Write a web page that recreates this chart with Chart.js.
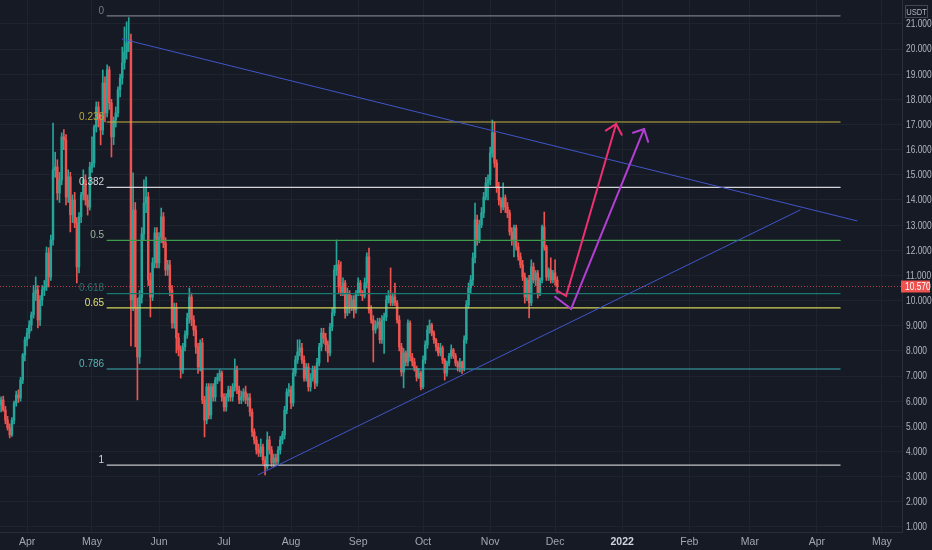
<!DOCTYPE html>
<html><head><meta charset="utf-8">
<script src="https://cdn.jsdelivr.net/npm/chart.js@4.4.0/dist/chart.umd.min.js"></script>
<style>html,body{margin:0;padding:0;background:#161a25;}canvas{display:block}</style>
</head><body>
<canvas id="c" width="932" height="550"></canvas>
<script>
// day offsets counted from 2021-04-01
const firstDay = -12;
const opens = [
5.85,6.05,5.65,5.25,4.94,4.66,5.25,5.93,6.25,6.13,6.84,7.84,
8.44,8.71,9.03,9.43,10.30,10.42,9.23,10.03,10.42,10.54,11.89,10.94,
12.41,15.20,15.31,14.28,14.80,16.51,16.39,14.12,14.92,13.41,14.00,13.09,
11.34,13.33,14.20,14.80,14.00,13.72,15.31,15.47,16.90,17.70,17.18,16.78,
18.65,17.46,19.17,17.86,16.51,17.18,17.46,18.38,18.85,19.45,19.89,20.24,
20.36,10.03,13.60,9.71,7.76,10.14,12.65,13.88,14.12,10.82,10.14,11.50,
12.69,11.50,12.53,13.33,12.29,11.22,11.42,10.42,9.11,9.71,8.52,8.04,
7.24,8.16,8.63,9.31,10.14,9.23,8.83,8.16,7.36,8.32,6.05,5.25,
6.57,5.45,6.57,6.17,6.84,6.96,7.12,6.17,5.77,6.17,6.45,6.17,
6.57,7.24,6.45,6.05,6.17,6.37,6.05,6.13,5.57,4.78,4.46,4.06,
3.94,4.18,3.66,3.39,4.46,4.06,3.55,3.74,3.60,4.06,4.46,4.66,
5.65,6.37,6.45,5.93,7.12,7.64,7.96,8.12,7.64,6.92,7.36,6.57,
6.92,7.24,6.72,7.52,8.16,8.71,8.51,8.24,7.92,8.95,9.51,11.22,
11.42,10.54,10.34,10.70,9.51,10.30,9.71,10.03,9.63,10.30,10.70,10.30,
10.18,10.70,11.74,9.63,9.23,8.83,9.03,9.15,8.44,9.23,9.35,10.03,
10.18,9.91,10.14,9.91,9.23,8.16,7.16,7.92,7.56,9.11,7.76,7.56,
7.32,6.96,7.12,6.57,7.64,8.24,8.83,9.03,8.71,8.44,8.16,7.92,
8.12,7.64,7.12,7.52,7.80,8.04,7.80,7.52,7.36,7.56,7.32,8.44,
9.83,10.50,10.82,11.70,13.21,12.41,13.01,13.49,14.12,14.68,14.80,15.87,
16.67,15.47,14.52,14.00,13.72,14.08,13.72,13.49,12.73,12.41,12.89,12.13,
11.74,11.42,10.94,10.14,10.82,9.91,11.34,10.82,11.10,10.30,10.82,12.93,
12.13,10.94,11.22,10.82,11.10,10.82];
const highs = [
6.17,6.2,5.8,5.4,5.1,5.35,6.0,6.4,6.45,6.95,7.9,8.55,
8.9,9.2,9.55,10.6,10.94,10.6,10.2,10.6,10.8,12.13,12.1,12.6,
17.06,15.9,15.6,15.1,16.67,16.8,16.6,15.2,15.1,14.2,14.3,13.3,
13.5,14.3,15.2,15.0,14.2,15.5,16.51,16.98,17.9,17.9,17.4,19.17,
18.9,19.37,19.3,18.0,17.3,17.7,18.5,19.0,20.08,20.88,21.08,21.25,
20.6,15.08,13.9,10.1,10.4,12.9,14.8,14.92,14.3,11.1,11.7,12.9,
12.9,12.7,13.68,13.5,12.5,11.6,11.6,10.6,9.9,9.9,8.7,8.2,
8.3,8.8,9.5,10.5,10.3,9.4,9.0,8.3,8.44,8.5,6.2,6.7,
6.7,6.7,6.7,6.95,7.1,7.24,7.2,6.3,6.3,6.6,6.6,6.7,
7.68,7.4,6.6,6.4,6.5,6.6,6.3,6.3,5.7,4.9,4.6,4.3,
4.5,4.3,3.8,4.78,4.6,4.2,3.9,3.9,4.2,4.6,4.8,5.8,
6.5,6.7,6.6,7.3,7.8,8.44,8.44,8.3,7.8,7.5,7.5,7.1,
7.4,7.4,7.7,8.3,8.9,8.9,8.7,8.4,9.1,9.7,11.4,12.41,
11.6,11.54,10.9,10.8,10.5,10.4,10.2,10.2,10.4,10.9,10.8,10.4,
10.9,11.9,12.09,9.8,9.4,9.2,9.3,9.3,9.4,9.5,10.2,10.4,
11.3,10.3,10.7,10.0,9.4,8.3,8.1,8.0,9.23,9.2,7.9,7.7,
7.4,7.3,7.2,7.8,8.4,9.0,9.23,9.1,8.8,8.5,8.3,8.3,
8.2,7.7,7.6,7.9,8.24,8.1,7.9,7.6,7.7,7.6,8.6,10.0,
10.7,11.0,11.9,13.88,13.4,13.2,13.7,14.3,14.9,15.0,16.1,17.18,
17.1,15.6,14.7,14.1,14.68,14.2,13.9,13.6,12.9,13.0,13.0,12.3,
11.9,11.6,11.1,10.9,11.0,11.62,11.5,11.2,11.2,10.9,13.0,13.52,
12.2,11.3,11.7,11.2,11.62,10.95];
const lows = [
5.57,5.6,5.1,4.85,4.54,4.6,5.1,5.8,5.95,6.0,6.7,7.6,
8.2,8.5,8.8,9.3,10.0,8.91,9.0,9.8,10.2,10.4,10.54,10.8,
12.2,14.9,14.0,13.9,14.6,16.0,13.8,13.9,12.73,13.1,12.9,10.7,
11.1,13.1,14.0,13.8,13.4,13.6,15.1,15.3,16.7,16.9,16.19,16.6,
17.1,17.3,17.6,15.71,16.2,16.9,17.3,18.1,18.6,19.2,19.6,19.9,
8.2,9.6,8.16,6.05,7.5,9.9,12.4,13.5,10.6,9.35,10.0,11.3,
11.3,11.3,12.3,12.1,11.0,11.0,10.2,8.9,8.9,7.92,7.8,6.92,
7.1,8.0,8.5,9.1,9.0,8.6,7.9,7.1,7.2,5.9,4.58,5.1,
5.3,5.3,6.0,6.0,6.7,6.8,6.0,5.6,5.6,6.0,6.0,6.0,
6.4,6.3,5.9,5.9,6.0,5.9,5.8,5.4,4.6,4.3,3.9,3.8,
3.8,3.5,3.07,3.3,3.9,3.4,3.4,3.5,3.5,3.9,4.3,4.5,
5.5,6.2,5.7,5.8,7.0,7.5,7.8,7.5,6.8,6.8,6.4,6.4,
6.8,6.5,6.6,7.4,8.0,8.3,8.0,7.56,7.8,8.8,9.4,11.0,
10.3,10.2,10.2,9.3,9.4,9.5,9.6,9.31,9.5,10.2,10.2,10.0,
10.1,10.5,9.5,9.1,7.56,8.7,8.9,8.3,8.3,7.9,9.2,9.9,
9.8,9.8,9.8,9.1,8.0,7.0,6.53,7.4,7.4,7.6,7.4,7.2,
6.8,6.9,6.45,6.5,7.5,8.1,8.7,8.6,8.3,8.0,7.8,7.8,
7.5,6.84,7.0,7.4,7.7,7.7,7.4,7.2,7.16,7.1,7.2,8.3,
9.7,10.3,10.6,11.5,12.2,12.3,12.9,13.3,14.0,14.0,14.6,15.7,
15.3,14.3,13.8,13.5,13.6,13.5,13.3,12.6,12.2,11.74,12.0,11.6,
11.3,10.8,9.9,10.0,9.31,9.8,10.7,10.6,10.1,10.2,10.7,12.0,
10.8,10.8,10.7,10.7,10.6,10.3];
const closes = [
6.05,5.65,5.25,4.94,4.66,5.25,5.93,6.25,6.13,6.84,7.84,8.44,
8.71,9.03,9.43,10.30,10.42,9.23,10.03,10.42,10.54,11.89,10.94,12.41,
15.20,15.31,14.28,14.80,16.51,16.39,14.12,14.92,13.41,14.00,13.09,11.34,
13.33,14.20,14.80,14.00,13.72,15.31,15.47,16.90,17.70,17.18,16.78,18.65,
17.46,19.17,17.86,16.51,17.18,17.46,18.38,18.85,19.45,19.89,20.24,20.36,
10.03,13.60,9.71,7.76,10.14,12.65,13.88,14.12,10.82,10.14,11.50,12.69,
11.50,12.53,13.33,12.29,11.22,11.42,10.42,9.11,9.71,8.52,8.04,7.24,
8.16,8.63,9.31,10.14,9.23,8.83,8.16,7.36,8.32,6.05,5.25,6.57,
5.45,6.57,6.17,6.84,6.96,7.12,6.17,5.77,6.17,6.45,6.17,6.57,
7.24,6.45,6.05,6.17,6.37,6.05,6.13,5.57,4.78,4.46,4.06,3.94,
4.18,3.66,3.39,4.46,4.06,3.55,3.74,3.60,4.06,4.46,4.66,5.65,
6.37,6.45,5.93,7.12,7.64,7.96,8.12,7.64,6.92,7.36,6.57,6.92,
7.24,6.72,7.52,8.16,8.71,8.51,8.24,7.92,8.95,9.51,11.22,11.42,
10.54,10.34,10.70,9.51,10.30,9.71,10.03,9.63,10.30,10.70,10.30,10.18,
10.70,11.74,9.63,9.23,8.83,9.03,9.15,8.44,9.23,9.35,10.03,10.18,
9.91,10.14,9.91,9.23,8.16,7.16,7.92,7.56,9.11,7.76,7.56,7.32,
6.96,7.12,6.57,7.64,8.24,8.83,9.03,8.71,8.44,8.16,7.92,8.12,
7.64,7.12,7.52,7.80,8.04,7.80,7.52,7.36,7.56,7.32,8.44,9.83,
10.50,10.82,11.70,13.21,12.41,13.01,13.49,14.12,14.68,14.80,15.87,16.67,
15.47,14.52,14.00,13.72,14.08,13.72,13.49,12.73,12.41,12.89,12.13,11.74,
11.42,10.94,10.14,10.82,9.91,11.34,10.82,11.10,10.30,10.82,12.93,12.13,
10.94,11.22,10.82,11.10,10.82,10.57];

const monthTicks = [0,30,61,91,122,153,183,214,244,275,306,334,365,395];
const monthLabels = ['Apr','May','Jun','Jul','Aug','Sep','Oct','Nov','Dec','2022','Feb','Mar','Apr','May'];
const priceTicks = [1,2,3,4,5,6,7,8,9,10,11,12,13,14,15,16,17,18,19,20,21];

const fibRatios = ['0','0.236','0.382','0.5','0.618','0.65','0.786','1'];
const fibPrices = [21.32,17.10,14.50,12.39,10.28,9.71,7.28,3.46];
const fibLineColors = ['#787b86','#c4b23c','#d4d4d8','#3f9c4a','#157a70','#d2d25a','#3aaeb2','#c2c4c8'];
const fibTextColors = ['#787b86','#b9a83c','#d4d4d8','#9fb39f','#2a6f6a','#e0e070','#5ab3b3','#d0d2d6'];
const fibStartDay = 37;
const fibEndDay = 375.7;

const upperTrend = [{x:43.9,y:20.40},{x:383.5,y:13.17}];
const lowerTrend = [{x:106.7,y:3.07},{x:357.2,y:13.60}];
const pinkPath = [{x:244.5,y:10.42},{x:249.1,y:10.18},{x:272.2,y:17.02}];
const pinkHead = [{x:267.4,y:16.76},{x:272.2,y:17.02},{x:274.8,y:16.59}];
const purplePath = [{x:244.0,y:10.15},{x:251.4,y:9.67},{x:285.1,y:16.82}];
const purpleHead = [{x:280.0,y:16.67},{x:285.1,y:16.82},{x:287.0,y:16.31}];
const lastPrice = 10.57;

const UP = '#26a69a', DOWN = '#ef5350';
const candleColors = closes.map((c,i)=> c >= opens[i] ? UP : DOWN);
const wickData = closes.map((c,i)=>({x:firstDay+i, y:[lows[i], highs[i]]}));
const bodyData = closes.map((c,i)=>({x:firstDay+i, y:[Math.min(opens[i],c), Math.max(opens[i],c)]}));

function lineDs(data,color,width,order){
  return {type:'line', data, borderColor:color, borderWidth:width, pointRadius:0, fill:false, tension:0, order:order, borderCapStyle:'round', borderJoinStyle:'miter'};
}
const fibDatasets = fibPrices.map((p,i)=> lineDs([{x:fibStartDay,y:p},{x:fibEndDay,y:p}], fibLineColors[i], 1.2, 2));

const gridColor = '#1f232e';
const FONT = 'Liberation Sans, Arial, sans-serif';

const decor = {
  id:'decor',
  beforeDraw(chart){
    const c = chart.ctx;
    c.save(); c.fillStyle = '#161a25'; c.fillRect(0,0,chart.width,chart.height); c.restore();
  },
  afterDatasetsDraw(chart){
    const c = chart.ctx, xs = chart.scales.x, ys = chart.scales.y, a = chart.chartArea;
    c.save();
    c.font = '10px ' + FONT; c.textAlign = 'right'; c.textBaseline = 'middle';
    fibPrices.forEach((p,i)=>{
      c.fillStyle = fibTextColors[i];
      c.fillText(fibRatios[i], xs.getPixelForValue(fibStartDay) - 3, ys.getPixelForValue(p) - 5);
    });
    const py = Math.round(ys.getPixelForValue(lastPrice)) + 0.5;
    c.strokeStyle = 'rgba(239,83,80,0.75)'; c.lineWidth = 1; c.setLineDash([1,2]);
    c.beginPath(); c.moveTo(a.left, py); c.lineTo(a.right, py); c.stroke();
    c.setLineDash([]);
    c.fillStyle = '#b2b5be'; c.textAlign = 'left'; c.textBaseline = 'middle';
    c.font = '10.5px ' + FONT;
    priceTicks.forEach(v=>{
      const y = ys.getPixelForValue(v);
      c.save(); c.translate(a.right + 4, y + 0.5); c.scale(0.8,1); c.fillText(v.toFixed(3),0,0); c.restore();
    });
    c.fillStyle = '#ef5350';
    c.fillRect(a.right - 1, py - 6, 29, 12);
    c.fillStyle = '#ffffff';
    c.save(); c.translate(a.right + 3, py + 0.5); c.scale(0.8,1); c.fillText(lastPrice.toFixed(3),0,0); c.restore();
    c.strokeStyle = '#434651'; c.lineWidth = 1;
    c.strokeRect(905.5, 5.5, 22, 12);
    c.fillStyle = '#b2b5be'; c.textAlign = 'center';
    c.save(); c.translate(916.5, 12); c.scale(0.8,1); c.font = '9.5px ' + FONT; c.fillText('USDT',0,0); c.restore();
    c.restore();
  }
};

new Chart(document.getElementById('c'), {
  type:'bar',
  data:{
    datasets:[
      {data:bodyData, backgroundColor:candleColors, barThickness:1.8, grouped:false, order:5, borderWidth:0, minBarLength:1},
      {data:wickData, backgroundColor:candleColors, barThickness:1, grouped:false, order:5, borderWidth:0},
      ...fibDatasets,
      lineDs(upperTrend,'#3f55c8',1,1),
      lineDs(lowerTrend,'#3f55c8',1,1),
      lineDs(pinkPath,'#ee2f72',2,0),
      lineDs(pinkHead,'#ee2f72',2,0),
      lineDs(purplePath,'#b23fd2',2,0),
      lineDs(purpleHead,'#b23fd2',2,0)
    ]
  },
  options:{
    responsive:false, animation:false, events:[],
    layout:{padding:0},
    plugins:{legend:{display:false}, tooltip:{enabled:false}},
    scales:{
      x:{type:'linear', min:-12.5, max:404.3, offset:false,
         grid:{color:gridColor, offset:false, drawTicks:false},
         border:{display:true, color:'#2a2e39'},
         afterBuildTicks:s=>{ s.ticks = monthTicks.map(v=>({value:v})); },
         afterFit:s=>{ s.height = 18; },
         ticks:{autoSkip:false, maxRotation:0, minRotation:0, padding:4,
           color:ctx=> (ctx.tick && ctx.tick.value===275) ? '#d1d4dc' : '#a3a6af',
           font:ctx=>({family:FONT, size:10.5, weight:(ctx.tick && ctx.tick.value===275)?'bold':'normal'}),
           callback:v=> monthLabels[monthTicks.indexOf(v)] }
      },
      y:{type:'linear', position:'right', min:0.8, max:21.95,
         grid:{color:gridColor, drawTicks:false},
         border:{display:true, color:'#2a2e39'},
         afterBuildTicks:s=>{ s.ticks = priceTicks.map(v=>({value:v})); },
         afterFit:s=>{ s.width = 30; },
         ticks:{display:false}
      }
    }
  },
  plugins:[decor]
});
</script>
</body></html>
